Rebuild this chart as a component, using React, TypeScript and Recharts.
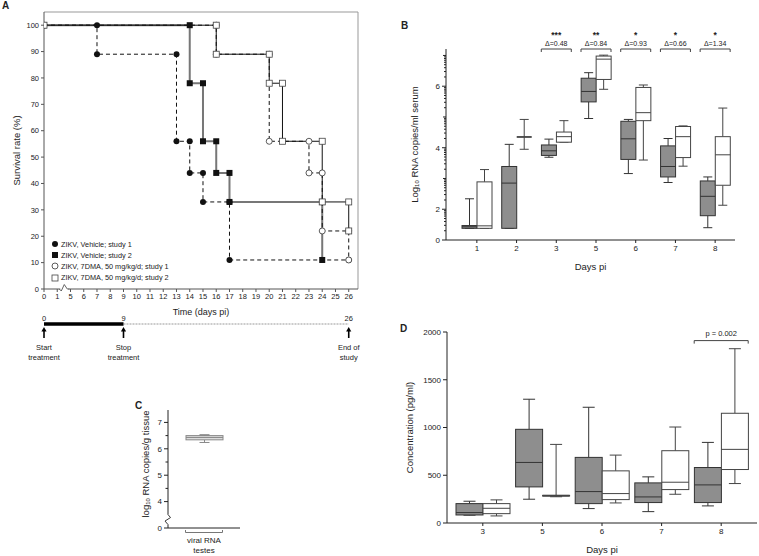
import React from 'react';
import {
  Bar,
  BarChart,
  ComposedChart,
  Label,
  Line,
  LineChart,
  ReferenceDot,
  ReferenceLine,
  Scatter,
  XAxis,
  YAxis,
} from 'recharts';

const FONT = '"Liberation Sans", Arial, Helvetica, sans-serif';
const INK = '#222';
const BOX_GRAY = '#8e8e8e';

// ---------- A: survival (day pi, % alive) ----------
const dayTickLabels = [0, 1, 5, 6, 7, 8, 9, 10, 11, 12, 13, 14, 15, 16, 17, 18, 19, 20, 21, 22, 23, 24, 25, 26];
const survivalTicks = [0, 10, 20, 30, 40, 50, 60, 70, 80, 90, 100];

const veh1Days = [0, 7, 7, 13, 13, 14, 14, 15, 15, 17, 17, 26];
const veh1Surv = [100, 100, 89, 89, 56, 56, 44, 44, 33, 33, 11, 11];
const veh2Days = [0, 14, 14, 15, 15, 16, 16, 17, 17, 24, 24];
const veh2Surv = [100, 100, 78, 78, 56, 56, 44, 44, 33, 33, 11];
const dma1Days = [0, 16, 16, 20, 20, 23, 23, 24, 24, 26, 26];
const dma1Surv = [100, 100, 89, 89, 56, 56, 44, 44, 22, 22, 11];
const dma2Days = [0, 16, 16, 20, 20, 21, 21, 24, 24, 26, 26];
const dma2Surv = [100, 100, 89, 89, 78, 78, 56, 56, 33, 33, 22];

const legendLabels = [
  'ZIKV, Vehicle; study 1',
  'ZIKV, Vehicle; study 2',
  'ZIKV, 7DMA, 50 mg/kg/d; study 1',
  'ZIKV, 7DMA, 50 mg/kg/d; study 2',
];

// timeline under A
const treatDays = [0, 9];
const followDays = [9, 26];
const milestoneDays = [0, 9, 26];
const milestoneText = [
  ['Start', 'treatment'],
  ['Stop', 'treatment'],
  ['End of', 'study'],
];

// ---------- B: serum viral RNA (log10) ----------
const bDays = ['1', '2', '3', '5', '6', '7', '8'];
const bVehMin = [1.38, 1.38, 3.69, 4.95, 3.16, 2.87, 1.4];
const bVehQ1 = [1.38, 1.38, 3.75, 5.49, 3.62, 3.05, 1.79];
const bVehMed = [1.43, 2.85, 3.9, 5.83, 4.29, 3.39, 2.42];
const bVehQ3 = [1.47, 3.39, 4.09, 6.26, 4.86, 4.06, 2.92];
const bVehMax = [2.34, 4.11, 4.28, 6.44, 4.92, 4.3, 3.05];
const bDmaMin = [1.38, 3.95, 4.18, 5.9, 3.6, 3.4, 2.13];
const bDmaQ1 = [1.38, 4.35, 4.18, 6.22, 4.88, 3.68, 2.78];
const bDmaMed = [1.46, 4.35, 4.36, 6.88, 5.14, 4.36, 3.77];
const bDmaQ3 = [2.89, 4.35, 4.51, 6.98, 5.96, 4.69, 4.36];
const bDmaMax = [3.29, 4.92, 4.88, 7.01, 6.04, 4.71, 5.29];

const bMajor = [1, 2, 4, 6];
const bMid = [3, 5, 7];
const bLogMinor = [1, 2, 3, 4, 5, 6]
  .flatMap((k) => [2, 3, 4, 5, 6, 7, 8, 9].map((m) => k + Math.log10(m)))
  .filter((v) => v < 7.2);

const sigDays = ['3', '5', '6', '7', '8'];
const sigStars = ['***', '**', '*', '*', '*'];
const sigDelta = ['0.48', '0.84', '0.93', '0.66', '1.34'];

// ---------- C: testes viral RNA ----------
const cCats = ['viral RNA testes'];
const cLabelLines = ['viral RNA', 'testes'];
const cMin = [6.24];
const cQ1 = [6.34];
const cMed = [6.43];
const cQ3 = [6.5];
const cMax = [6.52];
const cMajor = [3, 4, 5, 6, 7];
const cMinor = [4.5, 5.5, 6.5];
const cBreak = 3.32;

// ---------- D: concentration (pg/ml) ----------
const dDays = ['3', '5', '6', '7', '8'];
const dVehMin = [82, 249, 151, 119, 179];
const dVehQ1 = [84, 378, 203, 214, 214];
const dVehMed = [109, 634, 329, 273, 399];
const dVehQ3 = [203, 981, 687, 420, 581];
const dVehMax = [228, 1296, 1212, 483, 844];
const dDmaMin = [74, 275, 210, 301, 413];
const dDmaQ1 = [98, 283, 245, 350, 560];
const dDmaMed = [154, 286, 308, 427, 771];
const dDmaQ3 = [203, 289, 546, 757, 1149];
const dDmaMax = [242, 823, 711, 1005, 1825];
const dTicks = [0, 500, 1000, 1500, 2000];

// axis in A skips days 2–4, so days after 1 shift left by 3 slots
const axisPos = (d: number) => (d <= 1 ? d : d - 3);
const toPoints = (days: number[], surv: number[]) => days.map((d, i) => ({ x: axisPos(d), y: surv[i] }));

const veh1Pts = toPoints(veh1Days, veh1Surv);
const veh2Pts = toPoints(veh2Days, veh2Surv);
const dma1Pts = toPoints(dma1Days, dma1Surv);
const dma2Pts = toPoints(dma2Days, dma2Surv);

const timelineTreat = treatDays.map((d) => ({ x: axisPos(d), y: 0.5 }));
const timelineFollow = followDays.map((d) => ({ x: axisPos(d), y: 0.5 }));
const milestones = milestoneDays.map((d, i) => ({ x: axisPos(d), y: 0.5, day: d, lines: milestoneText[i] }));

const bRows = bDays.map((day, i) => ({
  day,
  veh: [bVehMin[i], bVehQ1[i], bVehMed[i], bVehQ3[i], bVehMax[i]],
  dma: [bDmaMin[i], bDmaQ1[i], bDmaMed[i], bDmaQ3[i], bDmaMax[i]],
}));
const cRows = cCats.map((cat, i) => ({ cat, box: [cMin[i], cQ1[i], cMed[i], cQ3[i], cMax[i]] }));
const dRows = dDays.map((day, i) => ({
  day,
  veh: [dVehMin[i], dVehQ1[i], dVehMed[i], dVehQ3[i], dVehMax[i]],
  dma: [dDmaMin[i], dDmaQ1[i], dDmaMed[i], dDmaQ3[i], dDmaMax[i]],
}));

// markers
const filledCircle = (p: any) => <circle key={p.index} cx={p.cx} cy={p.cy} r={3} fill="#111" />;
const filledSquare = (p: any) => <rect key={p.index} x={p.cx - 3} y={p.cy - 3} width={6} height={6} fill="#111" />;
const openCircle = (p: any) => (
  <circle key={p.index} cx={p.cx} cy={p.cy} r={3} fill="#fff" stroke="#333" strokeWidth={0.8} />
);
const openSquare = (p: any) => (
  <rect key={p.index} x={p.cx - 3} y={p.cy - 3} width={6} height={6} fill="#fff" stroke="#444" strokeWidth={0.8} />
);

// box-and-whisker drawn on a [min, max] range bar; inner values interpolated on the linear axis
const boxShape = (key: string, fill: string, stroke: string, cap: number, capStroke = stroke) =>
  function BoxShape(p: any) {
    const [lo, q1, med, q3, hi] = p.payload[key] as number[];
    const top = Math.min(p.y, p.y + p.height);
    const bot = Math.max(p.y, p.y + p.height);
    const py = (v: number) => (hi === lo ? top : top + ((bot - top) * (hi - v)) / (hi - lo));
    const cx = p.x + p.width / 2;
    const collapsed = py(q1) - py(q3) < 1.5;
    return (
      <g>
        <line x1={cx} x2={cx} y1={py(hi)} y2={py(q3)} stroke={stroke} />
        <line x1={cx} x2={cx} y1={py(q1)} y2={py(lo)} stroke={stroke} />
        <line x1={cx - cap / 2} x2={cx + cap / 2} y1={py(hi)} y2={py(hi)} stroke={capStroke} />
        <line x1={cx - cap / 2} x2={cx + cap / 2} y1={py(lo)} y2={py(lo)} stroke={stroke} />
        <rect x={p.x} y={py(q3)} width={p.width} height={Math.max(py(q1) - py(q3), 0)} fill={fill} stroke={stroke} />
        <line x1={p.x} x2={p.x + p.width} y1={py(med)} y2={py(med)} stroke={stroke} strokeWidth={collapsed ? 1.8 : 1} />
      </g>
    );
  };

const vLabel = (x: number, children: React.ReactNode, cyFix?: number) =>
  function VLabel(props: any) {
    const vb = props.viewBox || { y: 0, height: 0 };
    const cy = cyFix ?? vb.y + vb.height / 2;
    return (
      <text
        x={x}
        y={cy}
        transform={`rotate(-90 ${x} ${cy})`}
        textAnchor="middle"
        dominantBaseline="central"
        fontSize={9.5}
        fill={INK}
      >
        {children}
      </text>
    );
  };

function BTick(p: any) {
  const v = p.payload.value;
  const major = bMajor.includes(v);
  const len = major ? 4 : bMid.includes(v) ? 3 : 2;
  return (
    <g>
      <line x1={p.x - len} x2={p.x} y1={p.y} y2={p.y} stroke={INK} />
      {major && (
        <text x={p.x - 6} y={p.y} dy="0.35em" textAnchor="end" fontSize={8} fill={INK}>
          {v === 1 ? 0 : v}
        </text>
      )}
    </g>
  );
}

function CTick(p: any) {
  const v = p.payload.value;
  if (v === cBreak) {
    return (
      <g>
        <rect x={p.x - 2} y={p.y - 5} width={4} height={10} fill="#fff" />
        <path d={`M${p.x} ${p.y - 5} L${p.x + 2.5} ${p.y - 2} L${p.x - 3} ${p.y + 1.5} L${p.x} ${p.y + 5}`} fill="none" stroke={INK} strokeWidth={0.9} />
      </g>
    );
  }
  const major = cMajor.includes(v);
  return (
    <g>
      <line x1={p.x - (major ? 4 : 2.5)} x2={p.x} y1={p.y} y2={p.y} stroke={INK} />
      {major && (
        <text x={p.x - 6} y={p.y} dy="0.35em" textAnchor="end" fontSize={8} fill={INK}>
          {v === 3 ? 0 : v}
        </text>
      )}
    </g>
  );
}

function CXTick(p: any) {
  const y = p.y;
  return (
    <g>
      <path d={`M${p.x - 18.5} ${y + 2} V${y + 4.5} H${p.x + 18.5} V${y + 2}`} fill="none" stroke="#777" />
      <text x={p.x} y={y + 12.5} dy="0.35em" textAnchor="middle" fontSize={8} fill={INK}>
        {cLabelLines[0]}
      </text>
      <text x={p.x} y={y + 22} dy="0.35em" textAnchor="middle" fontSize={8} fill={INK}>
        {cLabelLines[1]}
      </text>
    </g>
  );
}

function Milestone(p: any) {
  const { cx, cy, payload } = p;
  return (
    <g fontSize={7.5}>
      <text x={cx} y={cy - 3.5} textAnchor="middle" fill={INK} stroke="none">
        {payload.day}
      </text>
      <line x1={cx} x2={cx} y1={cy + 14} y2={cy + 6} stroke="#000" strokeWidth={1.6} />
      <path d={`M${cx - 2.6} ${cy + 7.5} L${cx} ${cy + 3} L${cx + 2.6} ${cy + 7.5} Z`} fill="#000" stroke="none" />
      <text x={cx} y={cy + 26} textAnchor="middle" fill={INK} stroke="none">
        {payload.lines[0]}
      </text>
      <text x={cx} y={cy + 36} textAnchor="middle" fill={INK} stroke="none">
        {payload.lines[1]}
      </text>
    </g>
  );
}

const xBreak = (p: any) => (
  <g>
    <rect x={p.cx - 4} y={p.cy - 1} width={8} height={2} fill="#fff" />
    <path
      d={`M${p.cx - 5} ${p.cy} L${p.cx - 3} ${p.cy + 2} L${p.cx} ${p.cy - 4.5} L${p.cx + 3} ${p.cy} L${p.cx + 5} ${p.cy}`}
      fill="none"
      stroke="#555"
      strokeWidth={0.9}
    />
  </g>
);

const legendMarkers = [
  <circle cx={4} cy={4} r={3} fill="#111" />,
  <rect x={1} y={1} width={6} height={6} fill="#111" />,
  <circle cx={4} cy={4} r={3} fill="#fff" stroke="#333" strokeWidth={0.8} />,
  <rect x={1} y={1} width={6} height={6} fill="#fff" stroke="#444" strokeWidth={0.8} />,
];

const letter = (text: string, left: number, top: number) => (
  <div style={{ position: 'absolute', left, top, fontSize: 10, fontWeight: 700, lineHeight: 1 }}>{text}</div>
);

export default function App() {
  const dayIdx = dayTickLabels.map(axisPos);
  return (
    <div
      style={{
        position: 'absolute',
        left: 0,
        top: 0,
        width: 759,
        height: 556,
        overflow: 'hidden',
        background: '#fff',
        fontFamily: FONT,
        color: INK,
      }}
    >
      {letter('A', 2, 1)}
      {letter('B', 401, 21)}
      {letter('C', 135, 401)}
      {letter('D', 400, 324)}

      {/* A */}
      <div style={{ position: 'absolute', left: 0, top: 0 }}>
        <LineChart width={370} height={320} margin={{ top: 12, right: 12, left: 0, bottom: 0 }}>
          <XAxis
            type="number"
            dataKey="x"
            domain={[0, 23.7]}
            allowDataOverflow
            ticks={dayIdx}
            interval={0}
            tickFormatter={(v: number) => String(dayTickLabels[dayIdx.indexOf(v)])}
            tickSize={3}
            tick={{ fontSize: 7.5, fill: INK }}
            stroke="#555"
            height={31}
          >
            <Label value="Time (days pi)" position="insideBottom" offset={5} style={{ fontSize: 9, fill: INK }} />
          </XAxis>
          <YAxis
            type="number"
            domain={[0, 105]}
            ticks={survivalTicks}
            interval={0}
            width={44}
            tickSize={3}
            tickMargin={2}
            tick={{ fontSize: 7.5, fill: INK }}
            stroke="#555"
          >
            <Label content={vLabel(16, 'Survival rate (%)')} />
          </YAxis>
          <ReferenceLine y={105} stroke="#999" ifOverflow="visible" />
          <ReferenceLine x={23.7} stroke="#999" ifOverflow="visible" />
          <Line data={veh1Pts} dataKey="y" type="linear" stroke="#111" strokeDasharray="4 3" dot={filledCircle} isAnimationActive={false} />
          <Line data={veh2Pts} dataKey="y" type="linear" stroke="#777" strokeWidth={2} dot={filledSquare} isAnimationActive={false} />
          <Line data={dma1Pts} dataKey="y" type="linear" stroke="#111" strokeDasharray="4 3" dot={openCircle} isAnimationActive={false} />
          <Line data={dma2Pts} dataKey="y" type="linear" stroke="#111" dot={openSquare} isAnimationActive={false} />
          <ReferenceDot x={1.53} y={0} ifOverflow="visible" shape={xBreak} />
        </LineChart>
      </div>

      {/* legend inside A */}
      <div style={{ position: 'absolute', left: 51, top: 238.5, fontSize: 7.3, lineHeight: '11.2px' }}>
        {legendLabels.map((t, i) => (
          <div key={t} style={{ display: 'flex', alignItems: 'center', height: 11.2 }}>
            <svg width={8} height={8} style={{ marginRight: 2 }}>
              {legendMarkers[i]}
            </svg>
            <span>{t}</span>
          </div>
        ))}
      </div>

      {/* timeline */}
      <div style={{ position: 'absolute', left: 0, top: 289 }}>
        <ComposedChart width={370} height={90} margin={{ top: 0, right: 12, left: 44, bottom: 20 }}>
          <XAxis type="number" dataKey="x" domain={[0, 23.7]} hide />
          <YAxis type="number" dataKey="y" domain={[0, 1]} hide />
          <Line data={timelineFollow} dataKey="y" stroke="#999" strokeDasharray="2 1" dot={false} isAnimationActive={false} />
          <Line data={timelineTreat} dataKey="y" stroke="#000" strokeWidth={3.5} dot={false} isAnimationActive={false} />
          <Scatter data={milestones} shape={Milestone} isAnimationActive={false} />
        </ComposedChart>
      </div>

      {/* B */}
      <div style={{ position: 'absolute', left: 380, top: 0 }}>
        <BarChart
          width={379}
          height={280}
          data={bRows}
          margin={{ top: 49, right: 24, left: 0, bottom: 0 }}
          barGap={0}
          barSize={15}
        >
          <XAxis
            dataKey="day"
            padding={{ left: 11, right: 0 }}
            tickSize={3}
            tick={{ fontSize: 8, fill: INK }}
            stroke={INK}
            height={40}
            interval={0}
          >
            <Label value="Days pi" position="insideBottom" offset={10} style={{ fontSize: 9.5, fill: INK }} />
          </XAxis>
          <YAxis
            type="number"
            domain={[1, 7.21]}
            allowDataOverflow
            ticks={[...bMajor, ...bMid, ...bLogMinor]}
            interval={0}
            width={66}
            tickLine={false}
            tickSize={0}
            tickMargin={0}
            tick={BTick}
            stroke={INK}
          >
            <Label
              content={vLabel(
                34,
                <>
                  Log
                  <tspan fontSize={6} dy={3}>
                    10
                  </tspan>
                  <tspan dy={-3}> RNA copies/ml serum</tspan>
                </>,
              )}
            />
          </YAxis>
          <Bar dataKey={(r: any) => [r.veh[0], r.veh[4]]} shape={boxShape('veh', BOX_GRAY, '#333', 9)} isAnimationActive={false} />
          <Bar dataKey={(r: any) => [r.dma[0], r.dma[4]]} shape={boxShape('dma', '#fff', '#444', 9)} isAnimationActive={false} />
          {sigDays.map((d, i) => (
            <ReferenceDot
              key={d}
              x={d}
              y={7.21}
              ifOverflow="visible"
              shape={(p: any) => (
                <g>
                  <path d={`M${p.cx - 15} ${p.cy + 3} V${p.cy} H${p.cx + 15} V${p.cy + 3}`} fill="none" stroke="#444" />
                  <text x={p.cx} y={p.cy - 3.5} textAnchor="middle" fontSize={7} fill={INK}>
                    {`Δ=${sigDelta[i]}`}
                  </text>
                  <text x={p.cx} y={p.cy - 11} textAnchor="middle" fontSize={8.5} fontWeight={700} fill={INK}>
                    {sigStars[i]}
                  </text>
                </g>
              )}
            />
          ))}
        </BarChart>
      </div>

      {/* C */}
      <div style={{ position: 'absolute', left: 100, top: 400 }}>
        <BarChart width={150} height={156} data={cRows} margin={{ top: 10, right: 10, left: 0, bottom: 0 }} barSize={37}>
          <XAxis dataKey="cat" tickLine={false} tickSize={0} tickMargin={0} tick={CXTick} stroke={INK} height={28} interval={0} />
          <YAxis
            type="number"
            domain={[3, 7.47]}
            allowDataOverflow
            ticks={[...cMajor, ...cMinor, cBreak]}
            interval={0}
            width={68}
            tickLine={false}
            tickSize={0}
            tickMargin={0}
            tick={CTick}
            stroke={INK}
          >
            <Label
              content={vLabel(
                45,
                <>
                  log
                  <tspan fontSize={6} dy={3}>
                    10
                  </tspan>
                  <tspan dy={-3}> RNA copies/g tissue</tspan>
                </>,
                64,
              )}
            />
          </YAxis>
          <Bar dataKey={(r: any) => [r.box[0], r.box[4]]} shape={boxShape('box', '#dcdcdc', '#888', 10, '#111')} isAnimationActive={false} />
        </BarChart>
      </div>

      {/* D */}
      <div style={{ position: 'absolute', left: 380, top: 300 }}>
        <BarChart
          width={379}
          height={256}
          data={dRows}
          margin={{ top: 32, right: 2, left: 0, bottom: 0 }}
          barGap={0}
          barSize={27}
        >
          <XAxis
            dataKey="day"
            padding={{ left: 6, right: 6 }}
            tickSize={3}
            tick={{ fontSize: 8, fill: INK }}
            stroke={INK}
            height={33}
            interval={0}
          >
            <Label value="Days pi" position="insideBottom" offset={3} style={{ fontSize: 9.5, fill: INK }} />
          </XAxis>
          <YAxis
            type="number"
            domain={[0, 2000]}
            ticks={dTicks}
            interval={0}
            width={67}
            tickSize={4}
            tickMargin={2}
            tick={{ fontSize: 8, fill: INK }}
            stroke={INK}
          >
            <Label content={vLabel(29, 'Concentration (pg/ml)')} />
          </YAxis>
          <Bar dataKey={(r: any) => [r.veh[0], r.veh[4]]} shape={boxShape('veh', BOX_GRAY, '#333', 12)} isAnimationActive={false} />
          <Bar dataKey={(r: any) => [r.dma[0], r.dma[4]]} shape={boxShape('dma', '#fff', '#444', 12)} isAnimationActive={false} />
          <ReferenceDot
            x="8"
            y={1910}
            ifOverflow="visible"
            shape={(p: any) => (
              <g>
                <path d={`M${p.cx - 27} ${p.cy + 3} V${p.cy} H${p.cx + 27} V${p.cy + 3}`} fill="none" stroke="#444" />
                <text x={p.cx} y={p.cy - 4.5} textAnchor="middle" fontSize={7.5} fill={INK}>
                  p = 0.002
                </text>
              </g>
            )}
          />
        </BarChart>
      </div>
    </div>
  );
}
